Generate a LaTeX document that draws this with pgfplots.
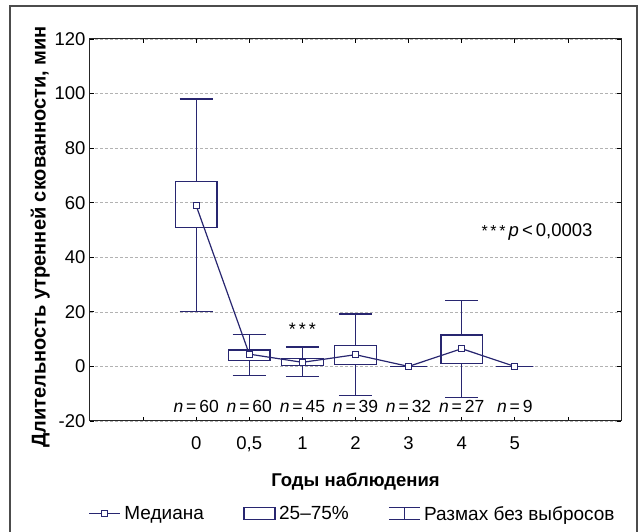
\documentclass[border=0pt]{standalone}
\usepackage{fontspec}
\setmainfont{Liberation Sans}
\usepackage{pgfplots}
\pgfplotsset{compat=1.18}
\usepgfplotslibrary{statistics}
\definecolor{navy}{RGB}{40,38,112}
\begin{document}
\begin{tikzpicture}
\useasboundingbox (-90pt,-111pt) rectangle (553pt,421pt);
% outer frame (bottom edge falls outside the picture)
\draw[black!70, line width=1.1pt] (-80pt,-120pt) -- (-80pt,415pt) -- (547pt,415pt) -- (547pt,-120pt);
\begin{axis}[
  at={(0pt,0pt)}, anchor=south west,
  width=531pt, height=382pt, scale only axis,
  xmin=-2, xmax=8, ymin=-20, ymax=120,
  xtick={-1,0,1,2,3,4,5,6,7},
  xticklabels={,0,{0,5},1,2,3,4,5,},
  ytick={-20,0,20,40,60,80,100,120},
  yticklabels={-20,0,20,40,60,80,100,120},
  tick align=inside, major tick length=4pt,
  tick style={black, line width=0.8pt},
  axis line style={black!85, line width=1pt},
  ymajorgrids, grid style={black!30, line width=0.6pt, dash pattern=on 3pt off 2pt},
  ticklabel style={font=\fontsize{18.5}{21}\selectfont},
  xticklabel style={yshift=-12pt},
  yticklabel style={xshift=-1pt},
  xlabel={\textbf{Годы наблюдения}},
  ylabel={\textbf{Длительность утренней скованности, мин}},
  xlabel style={font=\fontsize{18.5}{21}\selectfont, yshift=-14pt},
  ylabel style={font=\fontsize{20}{22}\selectfont, yshift=-2pt, at={(ticklabel cs:0.482)}},
  legend columns=3,
  legend style={at={(0.496,-0.243)}, anchor=center, draw=none, fill=none,
    font=\fontsize{19}{22}\selectfont, inner sep=0pt,
    nodes={inner xsep=3.5pt},
    /tikz/every even column/.append style={column sep=36pt}},
  boxplot/draw direction=y,
  boxplot/every median/.style={draw=none},
  boxplot/every box/.style={draw=navy, line width=1.2pt},
  boxplot/every whisker/.style={draw=navy, line width=1.2pt},
]
% boxes and whiskers
\addplot[forget plot, navy, line width=1.2pt, boxplot prepared={draw position=0,
  lower whisker=20, lower quartile=50.8, median=58.9, upper quartile=67.7, upper whisker=98,
  box extend=0.78}] coordinates {};
\addplot[forget plot, navy, line width=1.2pt, boxplot prepared={draw position=1,
  lower whisker=-3.2, lower quartile=2.3, median=4.5, upper quartile=6, upper whisker=11.7,
  box extend=0.78}] coordinates {};
\addplot[forget plot, navy, line width=1.2pt, boxplot prepared={draw position=2,
  lower whisker=-3.8, lower quartile=0.2, median=1.5, upper quartile=2.9, upper whisker=7.1,
  box extend=0.78}] coordinates {};
\addplot[forget plot, navy, line width=1.2pt, boxplot prepared={draw position=3,
  lower whisker=-10.6, lower quartile=0.8, median=4.3, upper quartile=7.8, upper whisker=19.2,
  box extend=0.78}] coordinates {};
\addplot[forget plot, navy, line width=1.2pt, boxplot prepared={draw position=4,
  lower whisker=0, lower quartile=0, median=0, upper quartile=0, upper whisker=0,
  box extend=0.7}] coordinates {};
\addplot[forget plot, navy, line width=1.2pt, boxplot prepared={draw position=5,
  lower whisker=-11.4, lower quartile=1.1, median=6.5, upper quartile=11.5, upper whisker=24.1,
  box extend=0.78}] coordinates {};
\addplot[forget plot, navy, line width=1.2pt, boxplot prepared={draw position=6,
  lower whisker=0, lower quartile=0, median=0, upper quartile=0, upper whisker=0,
  box extend=0.7}] coordinates {};
% medians
\addplot[forget plot, navy, line width=1.2pt, mark=square*, mark size=3pt,
  mark options={fill=white, solid}] coordinates {
  (0,58.9) (1,4.5) (2,1.5) (3,4.3) (4,0) (5,6.5) (6,0)};
% annotations
\node[font=\fontsize{17.5}{18}\selectfont] at (axis cs:0,-14.8) {\textit{n}\,=\,60};
\node[font=\fontsize{17.5}{18}\selectfont] at (axis cs:1,-14.8) {\textit{n}\,=\,60};
\node[font=\fontsize{17.5}{18}\selectfont] at (axis cs:2,-14.8) {\textit{n}\,=\,45};
\node[font=\fontsize{17.5}{18}\selectfont] at (axis cs:3,-14.8) {\textit{n}\,=\,39};
\node[font=\fontsize{17.5}{18}\selectfont] at (axis cs:4,-14.8) {\textit{n}\,=\,32};
\node[font=\fontsize{17.5}{18}\selectfont] at (axis cs:5,-14.8) {\textit{n}\,=\,27};
\node[font=\fontsize{17.5}{18}\selectfont] at (axis cs:6,-14.8) {\textit{n}\,=\,9};
\node[font=\fontsize{18}{18}\selectfont] at (axis cs:2,13.5) {*\,*\,*};
\node[anchor=east, font=\fontsize{18.5}{20}\selectfont] at (axis cs:7.53,49.3)
  {{\fontsize{16}{16}\selectfont*\,*\,*}\,\textit{p}\,<\,0,0003};
% legend
\addlegendimage{legend image code/.code={
  \draw[navy, line width=1.2pt] (0pt,0pt) -- (31pt,0pt);
  \draw[navy, line width=1.2pt, fill=white] (12.5pt,-3pt) rectangle (18.5pt,3pt);}}
\addlegendentry{Медиана}
\addlegendimage{legend image code/.code={
  \draw[navy, line width=1.2pt] (0pt,-6pt) rectangle (31pt,6pt);}}
\addlegendentry{25–75\%}
\addlegendimage{legend image code/.code={
  \draw[navy, line width=1.2pt] (0pt,6pt) -- (31pt,6pt) (0pt,-6pt) -- (31pt,-6pt)
    (15.5pt,-6pt) -- (15.5pt,6pt);}}
\addlegendentry{Размах без выбросов}
\end{axis}
\end{tikzpicture}
\end{document}
